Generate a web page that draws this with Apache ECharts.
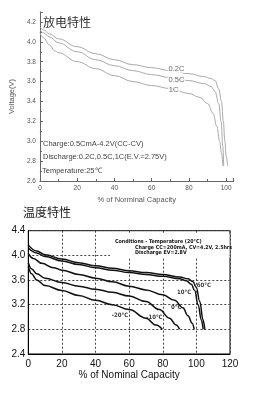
<!DOCTYPE html>
<html>
<head>
<meta charset="utf-8">
<script src="https://cdn.jsdelivr.net/npm/echarts@6/dist/echarts.min.js"></script>
<style>
  html, body { margin: 0; padding: 0; background: #fff; }
  #main { width: 253px; height: 400px; }
</style>
</head>
<body>
<div id="main"></div>
<script>
// discharge curves, 25C, [% capacity, volts]
let rate02C = [[0,4.15],[2,4.12],[5,4.08],[10,4.03],[20,3.95],[30,3.88],[40,3.82],[50,3.77],[60,3.74],[70,3.71],[80,3.68],[88,3.65],[92,3.63],[94,3.61],[96,3.53],[97.5,3.4],[98.5,3.2],[99.3,3.0],[100,2.85],[100.8,2.75]];
let rate05C = [[0,4.12],[2,4.09],[5,4.05],[10,3.99],[20,3.9],[30,3.82],[40,3.76],[50,3.71],[60,3.67],[70,3.64],[80,3.61],[88,3.58],[92,3.55],[94,3.5],[96,3.38],[97.3,3.2],[98.2,2.95],[98.7,2.75]];
let rate1C = [[0,4.09],[2,4.04],[5,3.97],[8,3.91],[10,3.89],[20,3.8],[30,3.73],[40,3.66],[50,3.6],[60,3.56],[70,3.53],[80,3.48],[86,3.44],[90,3.38],[93,3.28],[95,3.15],[96.5,3.0],[97.5,2.88],[98.3,2.75]];
let rateLabels = [[73.3,3.728,"0.2C"],[73.3,3.617,"0.5C"],[71.8,3.517,"1C"]];

// temperature curves
let temp60 = [[0,4.17],[5,4.07],[10,4.01],[20,3.94],[30,3.88],[40,3.83],[50,3.79],[60,3.75],[70,3.72],[80,3.69],[90,3.65],[95,3.62],[98,3.57],[100,3.48],[102,3.25],[104,2.95],[105,2.8]];
let temp10 = [[0,4.12],[5,4.04],[10,3.98],[20,3.91],[30,3.85],[40,3.8],[50,3.76],[60,3.72],[70,3.69],[80,3.66],[90,3.62],[94,3.59],[97,3.53],[99,3.43],[101,3.2],[103,2.95],[104,2.8]];
let temp0 = [[0,4.03],[3,3.95],[8,3.87],[15,3.8],[20,3.76],[30,3.69],[40,3.63],[50,3.57],[60,3.5],[70,3.44],[80,3.36],[87,3.27],[92,3.15],[95,3.02],[97.5,2.9],[98.7,2.8]];
let tempM10 = [[0,3.88],[2,3.78],[5,3.7],[10,3.63],[20,3.56],[30,3.5],[40,3.45],[50,3.4],[60,3.34],[70,3.25],[78,3.12],[84,2.98],[88,2.87],[90,2.8]];
let tempM20 = [[0,3.82],[2,3.7],[5,3.6],[10,3.51],[20,3.43],[30,3.35],[40,3.27],[50,3.2],[60,3.12],[70,2.98],[76,2.87],[79.7,2.8]];
let tempLabels = [[104.5,3.52,"60°C"],[92.7,3.4,"10°C"],[88,3.16,"0°C"],[75,3.0,"-10°C"],[54.6,3.03,"-20°C"]];

let topLine = { color: "#a9a9a9", width: 1 };
let botLine = { color: "#111", width: 1.5 };

function curve(data, xi, style) {
    return {
        type: "line", data: data, xAxisIndex: xi, yAxisIndex: xi,
        showSymbol: false, smooth: 0.4, smoothMonotone: "x",
        lineStyle: style, silent: true
    };
}

function labelSeries(data, xi, fontSize, weight, bg, family) {
    return {
        type: "scatter", data: data, xAxisIndex: xi, yAxisIndex: xi,
        symbolSize: 0, silent: true, z: 5,
        label: {
            show: true, position: "inside",
            formatter: function (p) { return p.data[2]; },
            fontSize: fontSize, fontWeight: weight, color: xi === 0 ? "#444" : "#000",
            fontFamily: family, backgroundColor: bg, padding: [0, 1]
        }
    };
}

let myChart = echarts.init(document.getElementById("main"));

let condFont = { fontSize: 5.3, fontWeight: "bold", fill: "#111", fontFamily: "DejaVu Sans Condensed" };

let option = {
    backgroundColor: "#fff",
    animation: false,
    grid: [
        { left: 28.3, top: 12, width: 205.3, height: 169 },
        { left: 28.3, top: 230.7, width: 201.7, height: 123.3, show: true, borderColor: "#000", borderWidth: 1, backgroundColor: "transparent" }
    ],
    xAxis: [
        {
            gridIndex: 0, type: "value", min: 0, max: 104, interval: 20,
            name: "% of Norminal Capacity", nameLocation: "middle", nameGap: 15,
            nameTextStyle: { fontSize: 7.5, color: "#555", fontFamily: "Liberation Sans" },
            axisLine: { lineStyle: { color: "#666" } },
            axisTick: { inside: true, length: 3, lineStyle: { color: "#666" } },
            minorTick: { show: true, splitNumber: 2, length: 2, lineStyle: { color: "#666" } },
            axisLabel: { fontSize: 6.5, color: "#555", margin: 4, showMaxLabel: false, fontFamily: "Liberation Sans" },
            splitLine: { show: false }
        },
        {
            gridIndex: 1, type: "value", min: 0, max: 120, interval: 20,
            name: "% of Nominal Capacity", nameLocation: "middle", nameGap: 15,
            nameTextStyle: { fontSize: 10, color: "#111", fontFamily: "Liberation Sans" },
            axisLine: { lineStyle: { color: "#000" } },
            axisTick: { show: false },
            axisLabel: { fontSize: 10, color: "#111", margin: 5, fontFamily: "Liberation Sans" },
            splitLine: { show: true, lineStyle: { color: "#444", type: [2, 2], width: 1 } }
        }
    ],
    yAxis: [
        {
            gridIndex: 0, type: "value", min: 2.6, max: 4.3, interval: 0.2,
            name: "Voltage(V)", nameLocation: "middle", nameGap: 18,
            nameTextStyle: { fontSize: 7.5, color: "#555", fontFamily: "Liberation Sans" },
            axisLine: { show: true, lineStyle: { color: "#666" } },
            axisTick: { show: true, inside: true, length: 3, lineStyle: { color: "#666" } },
            minorTick: { show: true, splitNumber: 2, length: 2, lineStyle: { color: "#666" } },
            axisLabel: { fontSize: 6.5, color: "#555", margin: 4, showMaxLabel: false, fontFamily: "Liberation Sans",
                formatter: function (v) { return v.toFixed(1); } },
            splitLine: { show: false }
        },
        {
            gridIndex: 1, type: "value", min: 2.4, max: 4.4, interval: 0.4,
            axisLine: { show: true, lineStyle: { color: "#000" } },
            axisTick: { show: false },
            axisLabel: { fontSize: 10, color: "#111", margin: 3, fontFamily: "Liberation Sans",
                formatter: function (v) { return v.toFixed(1); } },
            splitLine: { show: true, lineStyle: { color: "#444", type: [2, 2], width: 1 } }
        }
    ],
    graphic: [
        { type: "text", left: 43, top: 16, z: 10, style: { text: "放电特性", fontSize: 12, fill: "#333", fontFamily: "Noto Sans CJK SC" } },
        { type: "text", left: 43, top: 140, z: 10, style: { text: "Charge:0.5CmA-4.2V(CC-CV)", fontSize: 7.5, fill: "#444", fontFamily: "Liberation Sans" } },
        { type: "text", left: 43, top: 152.5, z: 10, style: { text: "Discharge:0.2C,0.5C,1C(E.V.=2.75V)", fontSize: 7.5, fill: "#444", fontFamily: "Liberation Sans" } },
        { type: "text", left: 42, top: 166.5, z: 10, style: { text: "Temperature:25℃", fontSize: 7.5, fill: "#444", fontFamily: "Liberation Sans" } },
        { type: "text", left: 23, top: 206, z: 10, style: { text: "温度特性", fontSize: 12, fill: "#222", fontFamily: "Noto Sans CJK SC" } },
        { type: "rect", shape: { x: 110, y: 234, width: 119.5, height: 24 }, z: 1, style: { fill: "#fff" } },
        { type: "text", left: 115, top: 239.5, z: 10, style: Object.assign({ text: "Conditions - Temperature (20°C)" }, condFont) },
        { type: "text", left: 135, top: 245, z: 10, style: Object.assign({ text: "Charge CC=200mA, CV=4.2V, 2.5hrs" }, condFont) },
        { type: "text", left: 135, top: 250.5, z: 10, style: Object.assign({ text: "Discharge EV=2.8V" }, condFont) }
    ],
    series: [
        curve(rate02C, 0, topLine),
        curve(rate05C, 0, topLine),
        curve(rate1C, 0, topLine),
        labelSeries(rateLabels, 0, 7.5, "normal", "#fff", "Liberation Sans"),
        curve(temp60, 1, botLine),
        curve(temp10, 1, botLine),
        curve(temp0, 1, botLine),
        curve(tempM10, 1, botLine),
        curve(tempM20, 1, botLine),
        labelSeries(tempLabels, 1, 6, "bold", "transparent", "DejaVu Sans Condensed")
    ]
};

myChart.setOption(option);
</script>
</body>
</html>
